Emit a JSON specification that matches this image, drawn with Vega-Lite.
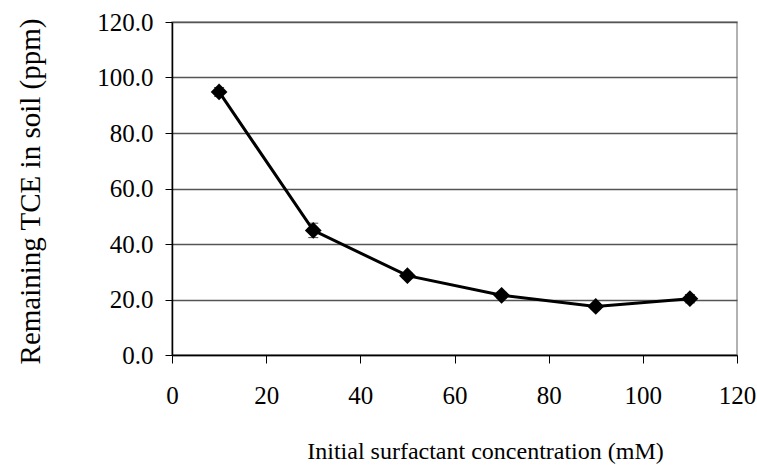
{
  "$schema": "https://vega.github.io/schema/vega-lite/v6.json",
  "width": 565,
  "height": 333,
  "autosize": "none",
  "padding": {"left": 172, "top": 22, "right": 20, "bottom": 111},
  "background": "white",
  "config": {
    "font": "Liberation Serif",
    "view": {"stroke": "#999999", "strokeWidth": 1.5}
  },
  "data": {"values": [
    {"c": 10, "tce": 94.8, "lo": 93.2, "hi": 96.4},
    {"c": 30, "tce": 44.9, "lo": 42.3, "hi": 47.5},
    {"c": 50, "tce": 28.6, "lo": 27.6, "hi": 29.6},
    {"c": 70, "tce": 21.5, "lo": 20.4, "hi": 22.6},
    {"c": 90, "tce": 17.5, "lo": 16.5, "hi": 18.5},
    {"c": 110, "tce": 20.3, "lo": 18.8, "hi": 21.8}
  ]},
  "encoding": {
    "x": {"field": "c", "type": "quantitative",
      "scale": {"domain": [0, 120], "nice": false},
      "axis": {"values": [0,20,40,60,80,100,120], "title": "Initial surfactant concentration (mM)",
        "grid": false, "domainColor": "black", "domainWidth": 1.5, "tickColor": "black", "tickSize": 8,
        "labelFont": "Liberation Serif", "titleFont": "Liberation Serif",
        "labelFontSize": 25, "labelColor": "black", "labelPadding": 20, "labelFlush": false,
        "titleFontSize": 24, "titleFontWeight": "normal", "titleColor": "black",
        "titleX": 313, "titleY": 84, "titleAnchor": "middle"}},
    "y": {"field": "tce", "type": "quantitative",
      "scale": {"domain": [0, 120], "nice": false},
      "axis": {"values": [0,20,40,60,80,100,120], "format": ".1f", "title": "Remaining TCE in soil (ppm)",
        "grid": true, "gridColor": "#555555", "gridWidth": 1.3,
        "labelFont": "Liberation Serif", "titleFont": "Liberation Serif",
        "domainColor": "black", "domainWidth": 1.5, "tickColor": "black", "tickSize": 7,
        "labelFontSize": 25, "labelColor": "black", "labelPadding": 12,
        "titleFontSize": 29, "titleFontWeight": "normal", "titleColor": "black",
        "titleX": -127, "titleY": 169, "titleAnchor": "middle"}}
  },
  "layer": [
    {"mark": {"type": "line", "color": "black", "strokeWidth": 3}},
    {"mark": {"type": "errorbar", "ticks": {"size": 10, "color": "black", "strokeWidth": 1.5}, "rule": {"color": "black", "strokeWidth": 1.5}},
     "encoding": {"y": {"field": "lo", "type": "quantitative"}, "y2": {"field": "hi"}}},
    {"mark": {"type": "point", "shape": "diamond", "filled": true, "color": "black", "opacity": 1, "size": 280}}
  ]
}
